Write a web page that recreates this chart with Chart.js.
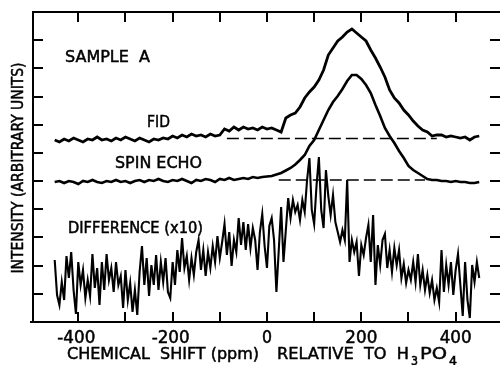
<!DOCTYPE html>
<html><head><meta charset="utf-8">
<script src="https://cdn.jsdelivr.net/npm/chart.js@4.4.1/dist/chart.umd.min.js"></script>
<style>html,body{margin:0;padding:0;background:#fff;}#wrap{width:500px;height:365px;position:relative;}</style>
</head><body><div id="wrap"><canvas id="c" width="500" height="365"></canvas></div>
<script>
// Chemical shift sampling (ppm), 10 ppm grid for FID and spin echo
const shift10 = [-450,-440,-430,-420,-410,-400,-390,-380,-370,-360,-350,-340,-330,-320,-310,-300,-290,-280,-270,-260,-250,-240,-230,-220,-210,-200,-190,-180,-170,-160,-150,-140,-130,-120,-110,-100,-90,-80,-70,-60,-50,-40,-30,-20,-10,0,10,20,30,40,50,60,70,80,90,100,110,120,130,140,150,160,170,180,190,200,210,220,230,240,250,260,270,280,290,300,310,320,330,340,350,360,370,380,390,400,410,420,430,440,450];
// Intensity (arbitrary units, 0..310 full frame)
const fidValues = [182,180,183,181,184,182,180,183,182,185,182,183,181,184,182,185,183,181,184,182,180,183,182,184,183,186,184,187,185,188,186,187,185,188,186,187,193,191,195,192,195,193,194,192,195,193,194,192,190,204,207,209,215,224,230,235,242,252,267,274,281,285,290,293,289,285,281,272,264,255,245,232,224,219,212,207,201,196,192,190,186,187,187,185,186,185,184,185,182,185,186];
const spinEchoValues = [140,141,139,141,140,138,141,140,142,140,139,141,140,142,140,141,139,141,142,140,142,141,143,141,140,142,141,143,141,139,142,141,143,142,140,143,142,144,142,143,144,143,145,144,145,145.5,146,147.5,149,151.5,154,157.5,162,167,176,182,192,202,212,220,226,233,241,247,247,243,237,229,217,206,194,186,179,171,164,156,152,149,146,143,142,142,141,141,140,141,140,140,139,139,140];
// 5 ppm grid for the difference (x10) trace
const shift5 = [-450,-445,-440,-435,-430,-425,-420,-415,-410,-405,-400,-395,-390,-385,-380,-375,-370,-365,-360,-355,-350,-345,-340,-335,-330,-325,-320,-315,-310,-305,-300,-295,-290,-285,-280,-275,-270,-265,-260,-255,-250,-245,-240,-235,-230,-225,-220,-215,-210,-205,-200,-195,-190,-185,-180,-175,-170,-165,-160,-155,-150,-145,-140,-135,-130,-125,-120,-115,-110,-105,-100,-95,-90,-85,-80,-75,-70,-65,-60,-55,-50,-45,-40,-35,-30,-25,-20,-15,-10,-5,0,5,10,15,20,25,30,35,40,45,50,55,60,65,70,75,80,85,90,95,100,105,110,115,120,125,130,135,140,145,150,155,160,165,170,175,180,185,190,195,200,205,210,215,220,225,230,235,240,245,250,255,260,265,270,275,280,285,290,295,300,305,310,315,320,325,330,335,340,345,350,355,360,365,370,375,380,385,390,395,400,405,410,415,420,425,430,435,440,445,450];
const differenceValues = [62,27,17,40,22,66,44,70,32,8,60,37,52,24,42,26,68,34,54,17,60,32,68,42,54,30,60,37,46,14,52,22,39,10,32,7,50,76,37,64,26,57,37,67,32,60,40,64,30,24,60,37,72,50,84,54,66,42,64,47,70,82,52,72,46,70,54,76,60,86,64,80,98,67,90,56,82,70,104,77,100,72,98,74,94,82,52,90,108,76,54,96,104,82,30,72,115,60,92,124,104,122,110,117,102,122,110,142,164,112,98,136,165,112,94,152,126,107,127,100,90,80,92,82,142,60,82,70,80,46,77,67,84,97,60,107,37,77,57,82,88,54,72,50,74,57,72,44,58,39,52,42,60,40,68,37,52,32,47,29,42,22,34,20,72,30,57,37,60,27,52,68,37,6,60,22,4,57,40,60,44];
// Dashed reference baselines
const fidBaselineShift = [-85, 360];
const fidBaselineLevel = [183.5, 183.5];
const echoBaselineShift = [25, 335];
const echoBaselineLevel = [142, 142];
// Axis ticks
const xTickValues = [-400,-300,-200,-100,0,100,200,300,400];
const xTickLabels = ['-400','','-200','','0','','200','','400'];
const yTickValues = [28.18,56.36,84.55,112.73,140.91,169.09,197.27,225.45,253.64,281.82];

const pts = (xs, ys) => xs.map((x, i) => ({x: x, y: ys[i]}));
const FONT = '"DejaVu Sans", "Liberation Sans", sans-serif';

function fitText(ctx, str, x, y, width, size, align) {
  ctx.font = size + 'px ' + FONT;
  const w = ctx.measureText(str).width;
  ctx.save();
  ctx.translate(x, y);
  ctx.scale(width / w, 1);
  ctx.textAlign = align || 'left';
  ctx.fillText(str, 0, 0);
  ctx.lineWidth = 0.5;
  ctx.strokeText(str, 0, 0);
  ctx.restore();
}

const framePlugin = {
  id: 'frame',
  afterDraw(chart) {
    const ctx = chart.ctx;
    const {left, right, top, bottom} = chart.chartArea;
    const xs = chart.scales.x, ys = chart.scales.y;
    ctx.save();
    ctx.strokeStyle = '#000';
    ctx.fillStyle = '#000';
    ctx.lineWidth = 2;
    const ln = (a, b, c, d) => { ctx.beginPath(); ctx.moveTo(a, b); ctx.lineTo(c, d); ctx.stroke(); };
    ln(left, top - 1, left, bottom + 1);
    ln(left, top, right, top);
    ln(left - 3, bottom, right, bottom);
    yTickValues.forEach(v => { const y = Math.round(ys.getPixelForValue(v)); ln(left, y, left + 10, y); ln(right - 10, y, right, y); });
    xTickValues.forEach(v => { const x = Math.round(xs.getPixelForValue(v)); ln(x, top, x, top + 10); ln(x, bottom - 10, x, bottom); });
    ctx.textBaseline = 'alphabetic';
    xTickValues.forEach((v, i) => {
      if (xTickLabels[i]) {
        const s = xTickLabels[i];
        const w = s.length === 4 ? 38 : (s.length === 3 ? 32 : 10);
        fitText(ctx, s, xs.getPixelForValue(v) - (v < 0 ? 2 : 0), 343, w, 17, 'center');
      }
    });
    // axis titles
    fitText(ctx, 'CHEMICAL  SHIFT (ppm)', 67, 359, 192, 16);
    fitText(ctx, 'RELATIVE  TO  H', 277, 359, 132, 16);
    fitText(ctx, '3', 411, 365, 7, 12);
    fitText(ctx, 'PO', 420, 359, 27, 16);
    fitText(ctx, '4', 449, 365, 8, 12);
    ctx.save();
    ctx.translate(23, 168);
    ctx.rotate(-Math.PI / 2);
    fitText(ctx, 'INTENSITY (ARBITRARY UNITS)', 0, 0, 211, 16, 'center');
    ctx.restore();
    // trace annotations
    fitText(ctx, 'SAMPLE  A', 65, 62, 85, 16);
    fitText(ctx, 'FID', 147, 127, 23, 16);
    fitText(ctx, 'SPIN ECHO', 115, 168, 87, 16);
    fitText(ctx, 'DIFFERENCE (x10)', 68, 233, 135, 15);
    ctx.restore();
  }
};

new Chart(document.getElementById('c').getContext('2d'), {
  type: 'line',
  data: {
    datasets: [
      {label: 'FID', data: pts(shift10, fidValues), borderColor: '#000', borderWidth: 2.8, pointRadius: 0, tension: 0, fill: false},
      {label: 'Spin echo', data: pts(shift10, spinEchoValues), borderColor: '#000', borderWidth: 2.6, pointRadius: 0, tension: 0, fill: false},
      {label: 'Difference (x10)', data: pts(shift5, differenceValues), borderColor: '#000', borderWidth: 2.1, pointRadius: 0, tension: 0, fill: false},
      {label: 'FID baseline', data: pts(fidBaselineShift, fidBaselineLevel), borderColor: '#000', borderWidth: 1.4, borderDash: [12, 5], pointRadius: 0, fill: false},
      {label: 'Spin echo baseline', data: pts(echoBaselineShift, echoBaselineLevel), borderColor: '#000', borderWidth: 1.4, borderDash: [12, 5], pointRadius: 0, fill: false}
    ]
  },
  options: {
    responsive: false,
    animation: false,
    devicePixelRatio: 1,
    layout: {padding: {left: 33, top: 12, right: 0, bottom: 43}},
    plugins: {legend: {display: false}, tooltip: {enabled: false}},
    scales: {
      x: {type: 'linear', min: -496, max: 494, display: false},
      y: {type: 'linear', min: 0, max: 310, display: false}
    }
  },
  plugins: [framePlugin]
});
</script></body></html>
